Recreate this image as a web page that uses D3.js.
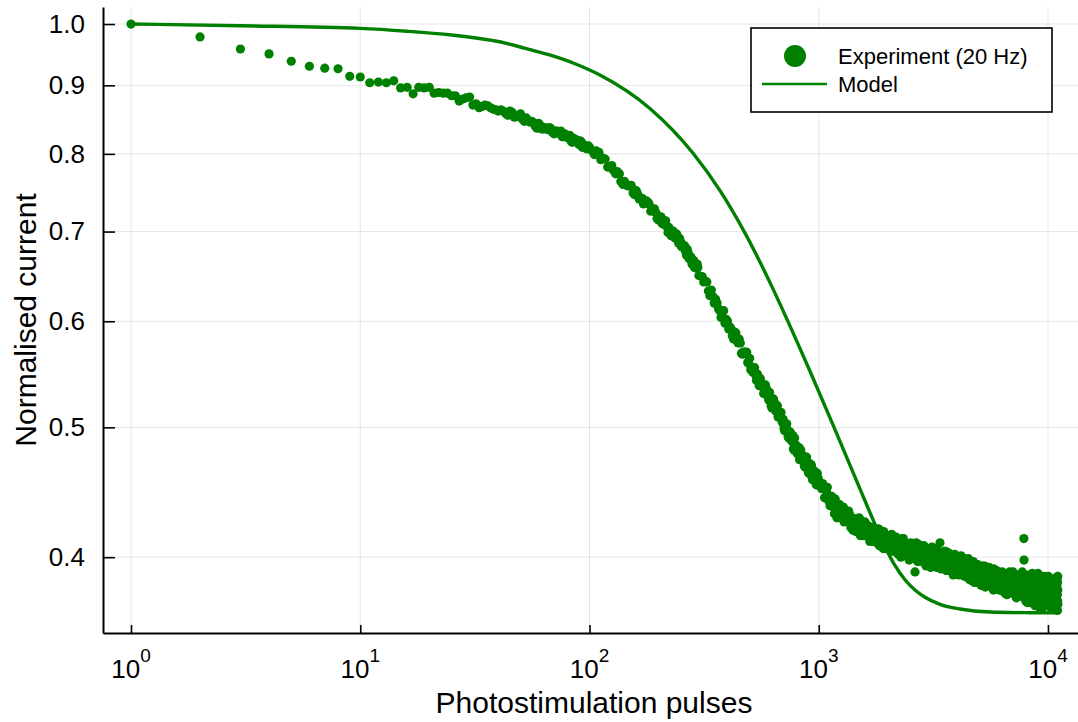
<!DOCTYPE html>
<html><head><meta charset="utf-8">
<script src="https://cdn.jsdelivr.net/npm/d3@7"></script>
<style>
body{margin:0;background:#fff}
svg{display:block}
text{font-family:"Liberation Sans",Arial,Helvetica,sans-serif;fill:#000}
</style>
</head><body>
<svg id="chart" width="1078" height="722"></svg>
<script>
// ---------- data ----------
const pulsesA = [1,2,3,4,5,6,7,8,9,10,11,12,13,14,15,16,17,18,19,20,21,22,23,24,25,26,27,28,29,30,31,32,33,34,35,36,37,38,39,40];
const currentA = [1.000,0.978,0.958,0.950,0.938,0.930,0.927,0.926,0.914,0.913,
0.904,0.905,0.904,0.907,0.896,0.897,0.887,0.897,0.896,0.897,
0.888,0.889,0.888,0.888,0.884,0.884,0.876,0.879,0.881,0.882,
0.870,0.872,0.866,0.868,0.870,0.869,0.866,0.864,0.863,0.861];

const pulsesB = [42,44,46,48,50,52,54,56,58,60,62,64,66,68,70,72,74,76,78,80,82,84,86,88,90,92,94,96,98,100];
const currentB = [0.861,0.855,0.859,0.853,0.857,0.846,0.847,0.846,0.839,0.843,
0.835,0.837,0.834,0.835,0.828,0.832,0.830,0.824,0.828,0.823,
0.826,0.816,0.818,0.819,0.813,0.817,0.810,0.811,0.809,0.809];
const pulsesB2 = [41,43,45,47,49,51,53,55,57,59,61,63,65,67,69,71,73,75,77,79,81,83,85,87,89,91,93,95,97,99];
const currentB2 = [0.863,0.858,0.861,0.852,0.854,0.849,0.851,0.845,0.844,0.836,
0.840,0.835,0.835,0.837,0.830,0.832,0.829,0.832,0.824,0.826,
0.823,0.818,0.822,0.820,0.815,0.818,0.809,0.812,0.807,0.811];

const pulsesC = [105,110,115,120,125,130,135,140,145,150,155,160,165,170,175,180,185,190,195,200,
205,210,215,220,225,230,235,240,245,250,255,260,265,270,275,280,285,290,295,300];
const currentC = [0.799,0.802,0.794,0.782,0.784,0.773,0.773,0.759,0.759,0.757,
0.748,0.751,0.740,0.741,0.736,0.736,0.725,0.727,0.723,0.714,
0.718,0.709,0.713,0.699,0.701,0.701,0.693,0.697,0.686,0.688,
0.683,0.683,0.672,0.674,0.670,0.662,0.666,0.658,0.662,0.649];
const pulsesC2 = [102,107,112,117,122,127,132,137,142,147,152,157,162,167,172,177,182,187,192,197,
202,207,212,217,222,227,232,237,242,247,252,257,262,267,272,277,282,287,292,297];
const currentC2 = [0.805,0.804,0.792,0.793,0.782,0.778,0.776,0.763,0.763,0.757,
0.758,0.746,0.747,0.741,0.734,0.738,0.734,0.726,0.728,0.716,
0.717,0.710,0.713,0.706,0.705,0.695,0.700,0.692,0.691,0.692,
0.682,0.683,0.677,0.679,0.668,0.670,0.664,0.658,0.662,0.658];

const pulsesD = [310,320,330,340,350,360,370,380,390,400,
410,420,430,440,450,460,470,480,490,500,
510,520,530,540,550,560,570,580,590,600,
610,620,630,640,650,660,670,680,690,700,
710,720,730,740,750,760,770,780,790,800,
810,820,830,840,850,860,870,880,890,900,
910,920,930,940,950,960,970,980,990,1000];
const currentD = [0.648,0.643,0.632,0.633,0.619,0.619,0.611,0.610,0.598,0.600,
0.594,0.585,0.589,0.580,0.582,0.568,0.569,0.568,0.559,0.563,
0.552,0.553,0.547,0.548,0.537,0.541,0.537,0.530,0.535,0.527,
0.531,0.519,0.522,0.522,0.514,0.519,0.509,0.511,0.506,0.507,
0.497,0.502,0.498,0.491,0.496,0.489,0.493,0.481,0.484,0.484,
0.478,0.483,0.474,0.477,0.474,0.476,0.467,0.472,0.470,0.463,
0.470,0.463,0.468,0.457,0.461,0.462,0.456,0.462,0.453,0.456];
const pulsesD2 = [315,325,335,345,355,365,375,385,395,405,
415,425,435,445,455,465,475,485,495,505,
515,525,535,545,555,565,575,585,595,605,
615,625,635,645,655,665,675,685,695,705,
715,725,735,745,755,765,775,785,795,805,
815,825,835,845,855,865,875,885,895,905,
915,925,935,945,955,965,975,985,995];
const currentD2 = [0.642,0.642,0.627,0.626,0.623,0.613,0.604,0.611,0.602,0.592,
0.592,0.582,0.588,0.578,0.578,0.567,0.569,0.569,0.558,0.552,
0.550,0.554,0.542,0.544,0.544,0.537,0.530,0.538,0.532,0.524,
0.525,0.517,0.525,0.517,0.518,0.509,0.512,0.513,0.504,0.499,
0.498,0.503,0.492,0.494,0.495,0.488,0.482,0.491,0.485,0.478,
0.480,0.473,0.481,0.474,0.476,0.468,0.472,0.475,0.466,0.462,
0.463,0.469,0.459,0.462,0.464,0.458,0.453,0.462,0.458];

const pulsesE = [1020,1040,1060,1080,1100,1120,1140,1160,1180,1200,
1220,1240,1260,1280,1300,1320,1340,1360,1380,1400,
1420,1440,1460,1480,1500,1520,1540,1560,1580,1600,
1620,1640,1660,1680,1700,1720,1740,1760,1780,1800,
1820,1840,1860,1880,1900,1920,1940,1960,1980,2000];
const currentE = [0.452,0.454,0.443,0.448,0.445,0.437,0.444,0.436,0.442,0.428,
0.433,0.435,0.428,0.436,0.426,0.430,0.427,0.431,0.421,0.428,
0.426,0.419,0.427,0.420,0.428,0.415,0.420,0.422,0.416,0.424,
0.415,0.420,0.417,0.420,0.411,0.419,0.417,0.411,0.419,0.413,
0.420,0.408,0.413,0.416,0.410,0.418,0.408,0.413,0.411,0.414];
const pulsesE2 = [1030,1050,1070,1090,1110,1130,1150,1170,1190,1210,
1230,1250,1270,1290,1310,1330,1350,1370,1390,1410,
1430,1450,1470,1490,1510,1530,1550,1570,1590,1610,
1630,1650,1670,1690,1710,1730,1750,1770,1790,1810,
1830,1850,1870,1890,1910,1930,1950,1970,1990];
const currentE2 = [0.450,0.452,0.443,0.451,0.440,0.441,0.443,0.431,0.438,0.433,
0.438,0.428,0.432,0.425,0.433,0.426,0.433,0.426,0.428,0.419,
0.425,0.418,0.427,0.419,0.427,0.419,0.422,0.415,0.425,0.415,
0.418,0.422,0.411,0.420,0.415,0.421,0.412,0.417,0.410,0.418,
0.412,0.419,0.413,0.415,0.406,0.413,0.406,0.415,0.408];

const pulsesF = [2040,2080,2120,2160,2200,2240,2280,2320,2360,2400,
2440,2480,2520,2560,2600,2640,2680,2720,2760,2800,
2840,2880,2920,2960,3000,3040,3080,3120,3160,3200,
3240,3280,3320,3360,3400,3440,3480,3520,3560,3600,
3640,3680,3720,3760,3800,3840,3880,3920,3960,4000,
4040,4080,4120,4160,4200,4240,4280,4320,4360,4400,
4440,4480,4520,4560,4600,4640,4680,4720,4760,4800,
4840,4880,4920,4960,5000];
const currentF = [0.407,0.416,0.404,0.409,0.412,0.406,0.400,0.413,0.408,0.401,
0.405,0.398,0.410,0.403,0.407,0.399,0.405,0.409,0.400,0.397,
0.399,0.408,0.396,0.402,0.405,0.399,0.393,0.407,0.402,0.395,
0.400,0.393,0.404,0.397,0.402,0.393,0.400,0.404,0.395,0.391,
0.394,0.403,0.391,0.397,0.400,0.394,0.389,0.402,0.397,0.391,
0.395,0.388,0.400,0.393,0.397,0.388,0.395,0.399,0.390,0.387,
0.389,0.398,0.386,0.392,0.396,0.389,0.384,0.397,0.393,0.386,
0.390,0.383,0.394,0.387,0.392];
const pulsesF2 = [2060,2100,2140,2180,2220,2260,2300,2340,2380,2420,
2460,2500,2540,2580,2620,2660,2700,2740,2780,2820,
2860,2900,2940,2980,3020,3060,3100,3140,3180,3220,
3260,3300,3340,3380,3420,3460,3500,3540,3580,3620,
3660,3700,3740,3780,3820,3860,3900,3940,3980,4020,
4060,4100,4140,4180,4220,4260,4300,4340,4380,4420,
4460,4500,4540,4580,4620,4660,4700,4740,4780,4820,
4860,4900,4940,4980];
const currentF2 = [0.414,0.406,0.409,0.414,0.402,0.409,0.405,0.413,0.401,0.408,
0.405,0.399,0.409,0.408,0.401,0.410,0.397,0.404,0.398,0.407,
0.401,0.404,0.394,0.405,0.398,0.401,0.406,0.395,0.401,0.398,
0.406,0.394,0.402,0.398,0.392,0.403,0.401,0.395,0.404,0.391,
0.398,0.392,0.401,0.395,0.398,0.388,0.400,0.392,0.395,0.400,
0.389,0.396,0.392,0.401,0.389,0.396,0.393,0.387,0.397,0.396,
0.390,0.399,0.385,0.392,0.387,0.396,0.390,0.393,0.383,0.394,
0.386,0.389,0.395,0.383];

const pulsesG = [5060,5120,5180,5240,5300,5360,5420,5480,5540,5600,
5660,5720,5780,5840,5900,5960,6020,6080,6140,6200,
6260,6320,6380,6440,6500,6560,6620,6680,6740,6800,
6860,6920,6980,7040,7100,7160,7220,7280,7340,7400,
7460,7520,7580,7640,7700,7760,7820,7880,7940,8000,
8060,8120,8180,8240,8300,8360,8420,8480,8540,8600,
8660,8720,8780,8840,8900,8960,9020,9080,9140,9200,
9260,9320,9380,9440,9500,9560,9620,9680,9740,9800,
9860,9920,9980,10040,10100,10160,10220,10280,10340,10400,
10460,10520,10580,10640,10700,10760,10820,10880,10940,11000];
const currentG = [0.389,0.381,0.392,0.384,0.394,0.385,0.389,0.381,0.393,0.382,
0.386,0.391,0.378,0.389,0.384,0.391,0.380,0.386,0.378,0.388,
0.382,0.390,0.383,0.386,0.376,0.384,0.375,0.388,0.379,0.390,
0.380,0.385,0.376,0.390,0.377,0.381,0.387,0.373,0.385,0.380,
0.388,0.376,0.383,0.374,0.385,0.378,0.388,0.380,0.383,0.371,
0.381,0.370,0.386,0.375,0.388,0.377,0.383,0.372,0.389,0.373,
0.379,0.386,0.368,0.383,0.377,0.387,0.372,0.381,0.370,0.384,
0.375,0.387,0.377,0.382,0.367,0.378,0.368,0.384,0.373,0.386,
0.375,0.381,0.370,0.387,0.372,0.377,0.384,0.367,0.381,0.375,
0.385,0.370,0.379,0.368,0.382,0.373,0.386,0.376,0.380,0.365];
const pulsesG2 = [5090,5210,5330,5450,5570,5690,5810,5930,6050,6170,
6290,6410,6530,6650,6770,6890,7010,7130,7250,7370,
7490,7610,7730,7850,7970,8090,8210,8330,8450,8570,
8690,8810,8930,9050,9170,9290,9410,9530,9650,9770,
9890,10010,10130,10250,10370,10490,10610,10730,10850,10970];
const currentG2 = [0.386,0.394,0.380,0.387,0.390,0.382,0.392,0.381,0.387,0.383,
0.388,0.377,0.386,0.384,0.377,0.387,0.380,0.388,0.374,0.381,
0.386,0.375,0.390,0.374,0.383,0.378,0.386,0.370,0.383,0.381,
0.370,0.386,0.375,0.389,0.367,0.378,0.383,0.372,0.387,0.371,
0.380,0.376,0.383,0.367,0.381,0.379,0.368,0.384,0.373,0.386];

const pulsesExtra = [2630,3380,7850,7860,10990,11010,11020,11030,11040,11050];
const currentExtra = [0.390,0.410,0.413,0.398,0.375,0.383,0.371,0.387,0.378,0.369];

const modelPulses = [1,3,10,16,25,32,41,52,67,87,111,184,283,371,477,613,727,916,1154,1513,1760,1945,2150,2378,2629,2907,3380,4131,5585,8347,11100];
const modelCurrent = [1.0000,0.9970,0.9926,0.9877,0.9813,0.9762,0.9696,0.9596,0.9482,0.9336,0.9161,0.8645,0.8008,0.7510,0.6981,0.6412,0.6020,0.5506,0.5022,0.4499,0.4232,0.4073,0.3944,0.3848,0.3781,0.3734,0.3689,0.3659,0.3640,0.3636,0.3635];

const xTickValues = [1,10,100,1000,10000];
const xTickExponents = ["0","1","2","3","4"];
const yTickValues = [0.4,0.5,0.6,0.7,0.8,0.9,1.0];
const yTickLabels = ["0.4","0.5","0.6","0.7","0.8","0.9","1.0"];
const seriesNames = ["Experiment (20 Hz)","Model"];
const xTitle = "Photostimulation pulses";
const yTitle = "Normalised current";
const xLimits = [0.7547,14650];
const yLimits = [0.35114,1.0297];

// ---------- build ----------
const green = "#008000";
const box = {left:103,right:1086,top:7,bottom:633};
const svg = d3.select("#chart");

const x = d3.scaleLog().domain(xLimits).range([box.left,box.right]);
const y = d3.scaleLog().domain(yLimits).range([box.bottom,box.top]);

const expData = [];
[[pulsesA,currentA],[pulsesB,currentB],[pulsesB2,currentB2],[pulsesC,currentC],[pulsesC2,currentC2],
 [pulsesD,currentD],[pulsesD2,currentD2],[pulsesE,currentE],[pulsesE2,currentE2],
 [pulsesF,currentF],[pulsesF2,currentF2],[pulsesG,currentG],[pulsesG2,currentG2],[pulsesExtra,currentExtra]]
 .forEach(([p,c])=>p.forEach((n,i)=>expData.push({n:n,v:c[i]})));
const modelData = modelPulses.map((n,i)=>({n:n,v:modelCurrent[i]}));

// grid
const grid = svg.append("g").attr("stroke","#000").attr("stroke-opacity",0.1).attr("stroke-width",1);
grid.selectAll("line.v").data(xTickValues).join("line").attr("class","v")
  .attr("x1",d=>x(d)).attr("x2",d=>x(d)).attr("y1",box.top).attr("y2",box.bottom);
grid.selectAll("line.h").data(yTickValues).join("line").attr("class","h")
  .attr("y1",d=>y(d)).attr("y2",d=>y(d)).attr("x1",box.left).attr("x2",box.right);

// points
svg.append("g").selectAll("circle").data(expData).join("circle")
  .attr("cx",d=>x(d.n)).attr("cy",d=>y(d.v)).attr("r",4.6).attr("fill",green);

// model line
const line = d3.line().x(d=>x(d.n)).y(d=>y(d.v)).curve(d3.curveMonotoneX);
svg.append("path").datum(modelData).attr("d",line)
  .attr("fill","none").attr("stroke",green).attr("stroke-width",3.4);

// y axis
const yAxis = svg.append("g").attr("transform",`translate(${box.left},0)`)
  .call(d3.axisLeft(y).tickValues(yTickValues).tickFormat((d,i)=>yTickLabels[i])
    .tickSizeInner(-12).tickSizeOuter(0).tickPadding(18));
yAxis.select(".domain").attr("stroke","#000").attr("stroke-width",2);
yAxis.selectAll(".tick line").attr("stroke","#000").attr("stroke-width",1.6);
yAxis.selectAll(".tick text").attr("font-size",26).attr("font-family",'"Liberation Sans",Arial,sans-serif').attr("fill","#000");

// x axis
const xAxis = svg.append("g").attr("transform",`translate(0,${box.bottom})`)
  .call(d3.axisBottom(x).tickValues(xTickValues).tickFormat("")
    .tickSizeInner(-8).tickSizeOuter(0));
xAxis.select(".domain").attr("stroke","#000").attr("stroke-width",2);
xAxis.selectAll(".tick line").attr("stroke","#000").attr("stroke-width",1.6);
const xl = svg.append("g").selectAll("text").data(xTickValues).join("text")
  .attr("x",d=>x(d)).attr("y",678).attr("text-anchor","middle").attr("font-size",26);
xl.append("tspan").text("10");
xl.append("tspan").attr("dy",-16).attr("font-size",19).text((d,i)=>xTickExponents[i]);

// titles
svg.append("text").attr("x",594).attr("y",713).attr("text-anchor","middle")
  .attr("font-size",30).text(xTitle);
svg.append("text").attr("transform","translate(36,320) rotate(-90)")
  .attr("text-anchor","middle").attr("font-size",30).text(yTitle);

// legend
const lg = svg.append("g");
lg.append("rect").attr("x",751).attr("y",28).attr("width",301).attr("height",84)
  .attr("fill","#fff").attr("stroke","#000").attr("stroke-width",1.6);
lg.append("circle").attr("cx",795).attr("cy",56).attr("r",11).attr("fill",green);
lg.append("line").attr("x1",762).attr("x2",827).attr("y1",84).attr("y2",84)
  .attr("stroke",green).attr("stroke-width",2.5);
lg.append("text").attr("x",838).attr("y",64).attr("font-size",22).text(seriesNames[0]);
lg.append("text").attr("x",838).attr("y",92).attr("font-size",22).text(seriesNames[1]);
</script>
</body></html>
